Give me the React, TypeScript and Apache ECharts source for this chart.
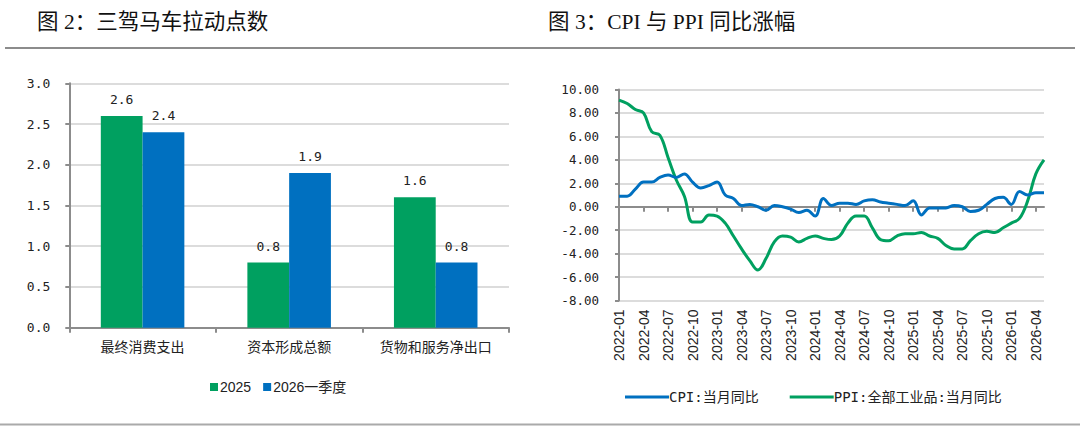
import React, { useEffect, useRef } from "react";
import * as echarts from "echarts";

// Left chart data
const barCategories = ["最终消费支出", "资本形成总额", "货物和服务净出口"];
const bar2025 = [2.6, 0.8, 1.6];
const bar2026Q1 = [2.4, 1.9, 0.8];

// Right chart data (2022-01 .. 2026-05)
const startYear = 2022;
const monthCount = 53;
const months: string[] = [];
for (let i = 0; i < monthCount; i++) {
  const y = startYear + Math.floor(i / 12);
  const m = (i % 12) + 1;
  months.push(`${y}-${m < 10 ? "0" + m : m}`);
}
const cpi = [
  0.9, 0.9, 1.5, 2.1, 2.1, 2.5, 2.7, 2.5, 2.8, 2.1, 1.6, 1.8,
  2.1, 1.0, 0.7, 0.1, 0.2, 0.0, -0.3, 0.1, 0.0, -0.2, -0.5, -0.3,
  -0.8, 0.7, 0.1, 0.3, 0.3, 0.2, 0.5, 0.6, 0.4, 0.3, 0.2, 0.1,
  0.5, -0.7, -0.1, -0.1, -0.1, 0.1, 0.0, -0.4, -0.3, 0.2, 0.7, 0.8,
  0.2, 1.3, 1.0, 1.2, 1.2,
];
const ppi = [
  9.1, 8.8, 8.3, 8.0, 6.4, 6.1, 4.2, 2.3, 0.9, -1.3, -1.3, -0.7,
  -0.8, -1.4, -2.5, -3.6, -4.6, -5.4, -4.4, -3.0, -2.5, -2.6, -3.0, -2.7,
  -2.5, -2.7, -2.8, -2.5, -1.4, -0.8, -0.8, -1.8, -2.8, -2.9, -2.5, -2.3,
  -2.3, -2.2, -2.5, -2.7, -3.3, -3.6, -3.6, -2.9, -2.3, -2.1, -2.2, -1.8,
  -1.4, -1.0, 0.5, 2.8, 4.0,
];

const GREEN = "#00A060";
const BLUE = "#0070C0";
const AXIS = "#8c8c8c";
const GRID = "#dcdcdc";
const MONO = "'DejaVu Sans Mono', monospace";
const CJK = "'Noto Sans CJK SC', sans-serif";
const TITLE_FONT = "'Liberation Serif', 'Noto Sans CJK SC', serif";

export default function App() {
  const ref = useRef<HTMLDivElement>(null);
  useEffect(() => {
    if (!ref.current) return;
    const chart = echarts.init(ref.current, undefined, { renderer: "svg" });
    chart.setOption({
      animation: false,
      backgroundColor: "#ffffff",
      graphic: [
        {
          type: "text",
          left: 37,
          top: 11,
          style: { text: "图 2：三驾马车拉动点数", font: `21.5px ${TITLE_FONT}`, fill: "#111" },
        },
        {
          type: "text",
          left: 548,
          top: 11,
          style: { text: "图 3：CPI 与 PPI 同比涨幅", font: `21.5px ${TITLE_FONT}`, fill: "#111" },
        },
        {
          type: "line",
          shape: { x1: 5, y1: 48, x2: 1075, y2: 48 },
          style: { stroke: "#666", lineWidth: 1.5 },
        },
        {
          type: "line",
          shape: { x1: 0, y1: 424.5, x2: 1080, y2: 424.5 },
          style: { stroke: "#aaa", lineWidth: 2 },
        },
      ],
      legend: [
        {
          data: ["2025", "2026一季度"],
          left: 205,
          top: 375,
          icon: "rect",
          itemWidth: 8,
          itemHeight: 8,
          itemGap: 12,
          textStyle: { fontSize: 14, fontFamily: `'Liberation Sans', ${CJK}`, color: "#222", padding: [0, 0, 0, -3] },
        },
        {
          data: ["CPI:当月同比", "PPI:全部工业品:当月同比"],
          left: 620,
          top: 385,
          icon: "rect",
          itemWidth: 44,
          itemHeight: 3,
          itemGap: 31,
          textStyle: { fontSize: 14, fontFamily: `${MONO.split(",")[0]}, ${CJK}`, color: "#222", padding: [0, 0, 0, -5] },
        },
      ],
      grid: [
        { left: 69.3, right: 571, top: 83.3, bottom: 118.3, containLabel: false },
        { left: 619, right: 36, top: 89.5, bottom: 145.5, containLabel: false },
      ],
      xAxis: [
        {
          type: "category",
          gridIndex: 0,
          data: barCategories,
          axisLine: { lineStyle: { color: AXIS, width: 2 } },
          axisTick: { show: true, length: 5, lineStyle: { color: AXIS, width: 2 } },
          axisLabel: { fontSize: 14, fontFamily: CJK, color: "#222", margin: 11 },
        },
        {
          type: "category",
          gridIndex: 1,
          data: months,
          boundaryGap: false,
          position: "bottom",
          axisLine: { show: false, onZero: false },
          axisTick: { show: false },
          axisLabel: {
            rotate: 90,
            interval: 2,
            fontSize: 14,
            fontFamily: "'Liberation Sans', Arial, sans-serif",
            color: "#222",
            margin: 9,
          },
        },
        {
          type: "category",
          gridIndex: 1,
          data: months,
          boundaryGap: false,
          position: "top",
          axisLine: { show: true, onZero: true, onZeroAxisIndex: 1, lineStyle: { color: AXIS, width: 2 } },
          axisTick: { show: true, inside: true, interval: 2, length: 5, lineStyle: { color: AXIS, width: 2 } },
          axisLabel: { show: false },
          splitLine: { show: false },
        },
      ],
      yAxis: [
        {
          type: "value",
          gridIndex: 0,
          min: 0,
          max: 3,
          interval: 0.5,
          axisLine: { show: true, lineStyle: { color: AXIS, width: 2 } },
          axisTick: { show: true, length: 4, lineStyle: { color: AXIS, width: 2 } },
          axisLabel: {
            fontSize: 13,
            fontFamily: MONO,
            color: "#222",
            margin: 19,
            formatter: (v: number) => v.toFixed(1),
          },
          splitLine: { lineStyle: { color: GRID, width: 2 } },
        },
        {
          type: "value",
          gridIndex: 1,
          min: -8,
          max: 10,
          interval: 2,
          axisLine: { show: true, lineStyle: { color: AXIS, width: 2 } },
          axisTick: { show: true, length: 4, lineStyle: { color: AXIS, width: 2 } },
          axisLabel: {
            fontSize: 12.5,
            fontFamily: MONO,
            color: "#222",
            margin: 20,
            formatter: (v: number) => v.toFixed(2),
          },
          splitLine: { lineStyle: { color: GRID, width: 2 } },
        },
      ],
      series: [
        {
          name: "2025",
          type: "bar",
          xAxisIndex: 0,
          yAxisIndex: 0,
          data: bar2025,
          itemStyle: { color: GREEN },
          barGap: "0%",
          barCategoryGap: "43%",
          label: {
            show: true,
            position: "top",
            distance: 10,
            fontSize: 13,
            fontFamily: MONO,
            color: "#222",
            formatter: (p: any) => Number(p.value).toFixed(1),
          },
        },
        {
          name: "2026一季度",
          type: "bar",
          xAxisIndex: 0,
          yAxisIndex: 0,
          data: bar2026Q1,
          itemStyle: { color: BLUE },
          barGap: "0%",
          barCategoryGap: "43%",
          label: {
            show: true,
            position: "top",
            distance: 10,
            fontSize: 13,
            fontFamily: MONO,
            color: "#222",
            formatter: (p: any) => Number(p.value).toFixed(1),
          },
        },
        {
          name: "CPI:当月同比",
          type: "line",
          xAxisIndex: 1,
          yAxisIndex: 1,
          data: cpi,
          smooth: 0.4,
          showSymbol: false,
          lineStyle: { color: BLUE, width: 3 },
          itemStyle: { color: BLUE },
          z: 3,
        },
        {
          name: "PPI:全部工业品:当月同比",
          type: "line",
          xAxisIndex: 1,
          yAxisIndex: 1,
          data: ppi,
          smooth: 0.4,
          showSymbol: false,
          lineStyle: { color: GREEN, width: 3 },
          itemStyle: { color: GREEN },
          z: 2,
        },
      ],
    });
    return () => chart.dispose();
  }, []);
  return (
    <div
      ref={ref}
      style={{ position: "fixed", left: 0, top: 0, width: 1080, height: 446, background: "#fff" }}
    />
  );
}
